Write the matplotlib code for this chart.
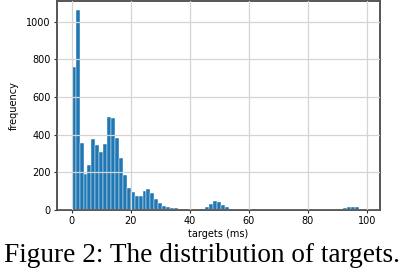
import numpy as np
import matplotlib
matplotlib.use('Agg')
import matplotlib.pyplot as plt

# histogram of targets: 75 bins from 0 to 100 ms
bin_lo = 0.0
bin_hi = 100.0
n_bins = 75
counts = [758, 1062, 356, 190, 238, 375, 347, 307, 351, 493,
          489, 382, 274, 186, 116, 95, 74, 74, 103, 112,
          88, 56, 35, 23, 14, 10, 9, 5, 3, 3,
          3, 2, 3, 5, 18, 30, 46, 40, 27, 18,
          3, 2, 2, 3, 2, 2, 3, 2, 2, 2,
          3, 2, 2, 0, 2, 2, 2, 3, 2, 2,
          2, 0, 2, 2, 2, 2, 3, 3, 4, 9,
          16, 17, 16, 6, 3]
xticks = [0, 20, 40, 60, 80, 100]
yticks = [0, 200, 400, 600, 800, 1000]

edges = np.linspace(bin_lo, bin_hi, n_bins + 1)
centers = (edges[:-1] + edges[1:]) / 2

fig = plt.figure(figsize=(4.04, 2.72), dpi=100)
ax = fig.add_axes([57/404, 62/272, 323/404, 209/272])

ax.hist(centers, bins=edges, weights=counts, color='#1f77b4',
        edgecolor='white', linewidth=0.3)
ax.grid(True, color='#d4d4d4', linewidth=0.9)
ax.set_axisbelow(False)

ax.set_xticks(xticks)
ax.set_yticks(yticks)
ax.set_xlim(-5, 104.5)
ax.set_ylim(0, 1110)
ax.tick_params(labelsize=7, length=2.5, width=0.8, colors='#333333',
               labelcolor='black', pad=2)
for s in ax.spines.values():
    s.set_color('#555555')
    s.set_linewidth(1.4)

ax.set_xlabel('targets (ms)', fontsize=7, labelpad=2)
ax.set_ylabel('frequency', fontsize=7, labelpad=5)

# caption under the chart
fig.text(0.5, 17/272, 'Figure 2: The distribution of targets.',
         ha='center', va='center', fontsize=19.6,
         family=['Liberation Serif', 'DejaVu Serif'])

fig.savefig('out.png', dpi=100)
